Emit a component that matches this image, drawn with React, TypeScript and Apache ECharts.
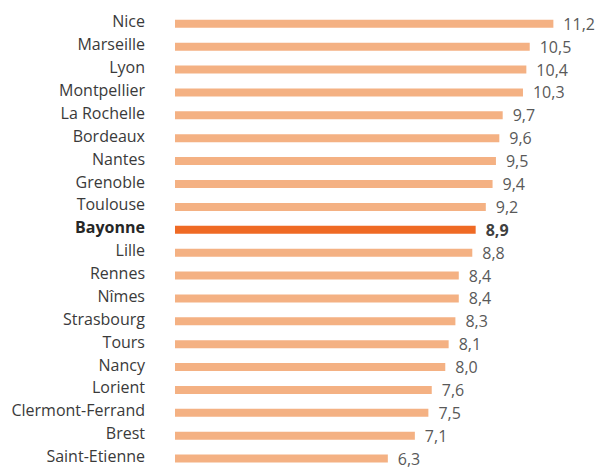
import React, { useEffect, useRef } from "react";
import * as echarts from "echarts";

const categories = [
  "Nice", "Marseille", "Lyon", "Montpellier", "La Rochelle", "Bordeaux", "Nantes",
  "Grenoble", "Toulouse", "Bayonne", "Lille", "Rennes", "Nîmes", "Strasbourg",
  "Tours", "Nancy", "Lorient", "Clermont-Ferrand", "Brest", "Saint-Etienne",
];
const values = [11.2, 10.5, 10.4, 10.3, 9.7, 9.6, 9.5, 9.4, 9.2, 8.9, 8.8, 8.4, 8.4, 8.3, 8.1, 8.0, 7.6, 7.5, 7.1, 6.3];
const highlight = "Bayonne";

const LIGHT = "#F4B183";
const DARK = "#EF6A24";
const FONT = "'Open Sans', sans-serif";
const FS = 16;

export default function App() {
  const ref = useRef<HTMLDivElement>(null);
  useEffect(() => {
    if (!ref.current) return;
    const chart = echarts.init(ref.current, undefined, { renderer: "svg" });
    chart.setOption({
      animation: false,
      backgroundColor: "#ffffff",
      grid: { left: 175, top: 12.4, width: 405.4, height: 465.3, containLabel: false },
      xAxis: {
        type: "value",
        min: 0,
        max: 12,
        show: false,
      },
      yAxis: {
        type: "category",
        inverse: true,
        data: categories,
        axisLine: { show: false },
        axisTick: { show: false },
        splitLine: { show: false },
        axisLabel: {
          margin: 30,
          fontFamily: FONT,
          fontSize: FS,
          color: "#3a3a3a",
          padding: [0, 0, 5, 0],
          formatter: (v: string) => (v === highlight ? `{b|${v}}` : v),
          rich: {
            b: { fontFamily: FONT, fontSize: FS, fontWeight: "bold", color: "#262626" },
          },
        },
      },
      series: [
        {
          type: "bar",
          barWidth: 8,
          data: values.map((v, i) => ({
            value: v,
            itemStyle: { color: categories[i] === highlight ? DARK : LIGHT },
            label: categories[i] === highlight ? { fontWeight: "bold", color: "#404040" } : undefined,
          })),
          label: {
            show: true,
            position: "right",
            distance: 10,
            fontFamily: FONT,
            fontSize: FS,
            color: "#595959",
            padding: [0, 0, 5, 0],
            formatter: (p: any) => p.value.toFixed(1).replace(".", ","),
          },
        },
      ],
    });
    return () => chart.dispose();
  }, []);
  return (
    <div
      ref={ref}
      style={{ position: "absolute", left: 0, top: 0, width: 596, height: 470 }}
    />
  );
}
